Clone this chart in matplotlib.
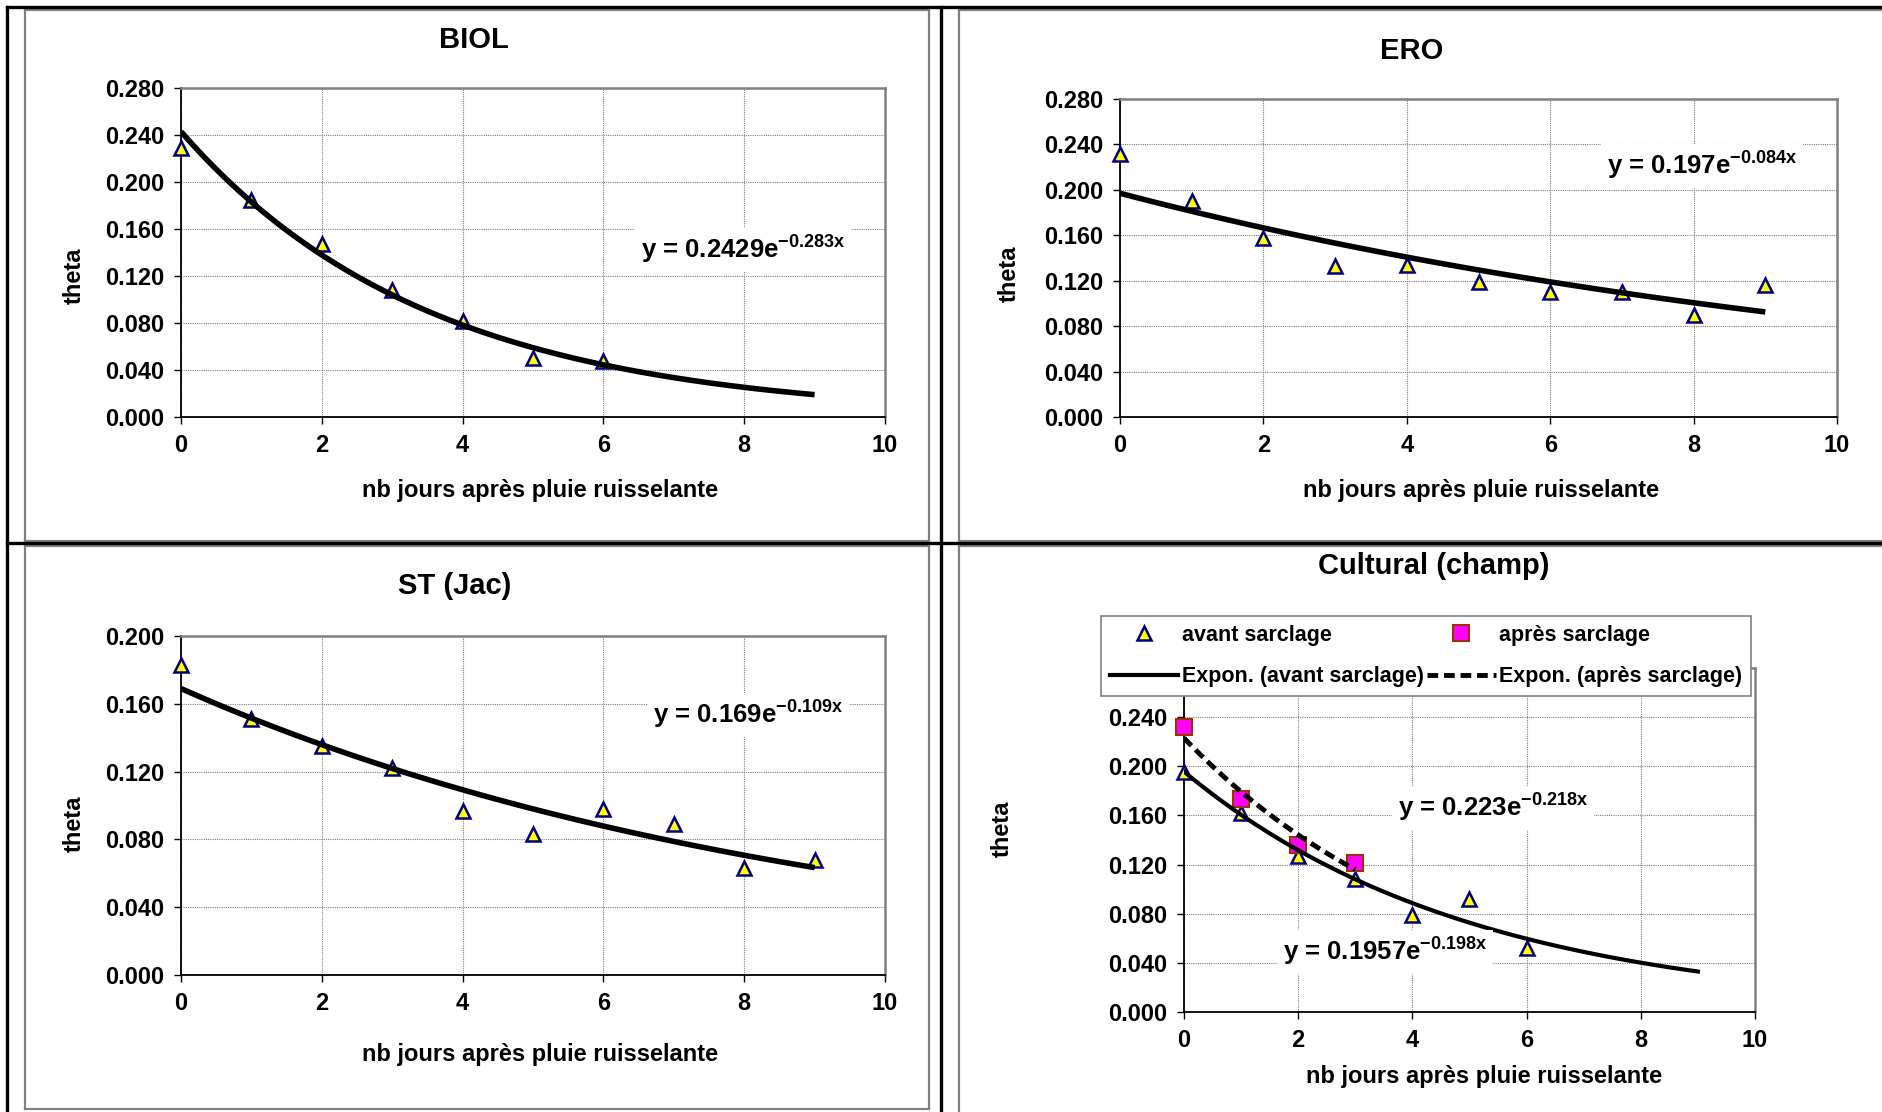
import matplotlib
matplotlib.use("Agg")
import matplotlib.pyplot as plt
from matplotlib.ticker import FormatStrFormatter
import numpy as np

plt.rcParams['font.family'] = ['Liberation Sans', 'DejaVu Sans']
plt.rcParams['font.weight'] = 'bold'
plt.rcParams['mathtext.fontset'] = 'custom'
plt.rcParams['mathtext.rm'] = 'Liberation Sans:bold'
plt.rcParams['mathtext.it'] = 'Liberation Sans:bold'
plt.rcParams['mathtext.bf'] = 'Liberation Sans:bold'

W, H = 1883, 1112

# ---- data ----
biol_days = [0, 1, 2, 3, 4, 5, 6]
biol_theta = [0.229, 0.185, 0.147, 0.108, 0.082, 0.050, 0.048]
biol_fit = (0.2429, -0.283)

ero_days = [0, 1, 2, 3, 4, 5, 6, 7, 8, 9]
ero_theta = [0.232, 0.190, 0.158, 0.133, 0.134, 0.119, 0.110, 0.110, 0.090, 0.116]
ero_fit = (0.197, -0.084)

st_days = [0, 1, 2, 3, 4, 5, 6, 7, 8, 9]
st_theta = [0.183, 0.151, 0.135, 0.122, 0.097, 0.083, 0.098, 0.089, 0.063, 0.068]
st_fit = (0.169, -0.109)

avant_days = [0, 1, 2, 3, 4, 5, 6]
avant_theta = [0.195, 0.162, 0.127, 0.108, 0.079, 0.092, 0.052]
avant_fit = (0.1957, -0.198)

apres_days = [0, 1, 2, 3]
apres_theta = [0.232, 0.173, 0.136, 0.121]
apres_fit = (0.223, -0.218)

xlabel = 'nb jours après pluie ruisselante'
ylabel = 'theta'

TICK_FS = 17
LABEL_FS = 17
TITLE_FS = 21
EQ_FS = 18.5


def eq_text(a, b):
    return 'y = %se$^{%s\\mathrm{x}}$' % (a, b)


fig = plt.figure(figsize=(W / 100, H / 100), dpi=100)

# frame lines, in pixel coordinates
bg = fig.add_axes([0, 0, 1, 1], zorder=-5)
bg.set_xlim(0, W)
bg.set_ylim(H, 0)
bg.axis('off')
grey = '#808080'
for (x0, y0, x1, y1) in [(25, 10, 929, 10), (25, 10, 25, 541), (929, 10, 929, 1109),
                         (25, 541, 929, 541), (25, 546, 25, 1109), (25, 1109, 929, 1109),
                         (959, 10, 1883, 10), (959, 10, 959, 1112), (959, 541, 1883, 541),
                         (25, 546, 929, 546), (959, 546, 1883, 546)]:
    bg.plot([x0, x1], [y0, y1], color=grey, lw=1.6)
for (x0, y0, x1, y1) in [(7, 7, 1883, 7), (7, 7, 7, 1112), (941, 7, 941, 1112), (7, 543, 1883, 543)]:
    bg.plot([x0, x1], [y0, y1], color='black', lw=2.4)


def px_axes(x0, y0, x1, y1):
    return fig.add_axes([x0 / W, 1 - y1 / H, (x1 - x0) / W, (y1 - y0) / H])


def style_axes(ax, ymax):
    ax.set_xlim(0, 10)
    ax.set_ylim(0, ymax)
    ax.set_xticks(np.arange(0, 11, 2))
    ax.set_yticks(np.arange(0, ymax + 0.001, 0.04))
    ax.yaxis.set_major_formatter(FormatStrFormatter('%.3f'))
    ax.grid(True, color='#808080', linestyle=(0, (1, 1)), linewidth=0.8)
    ax.set_axisbelow(True)
    for s in ['top', 'right']:
        ax.spines[s].set_color(grey)
        ax.spines[s].set_linewidth(1.8)
    for s in ['left', 'bottom']:
        ax.spines[s].set_color('black')
        ax.spines[s].set_linewidth(1.3)
    ax.tick_params(direction='out', length=5, width=1, labelsize=TICK_FS, pad=7)
    for lab in ax.get_xticklabels() + ax.get_yticklabels():
        lab.set_fontweight('bold')


def tri(ax, x, y):
    ax.plot(x, y, linestyle='none', marker='^', markersize=10, markerfacecolor='#FFFF00',
            markeredgecolor='#000080', markeredgewidth=1.8, zorder=3, clip_on=False)


def trend(ax, fit, xend, lw=4.0, ls='-'):
    xs = np.linspace(0, xend, 100)
    ax.plot(xs, fit[0] * np.exp(fit[1] * xs), color='black', lw=lw, ls=ls,
            zorder=4, solid_capstyle='butt')


def ftext(x, y, s, **kw):
    return fig.text(x / W, 1 - y / H, s, ha='center', va='center', fontweight='bold', **kw)


box = dict(facecolor='white', edgecolor='none', pad=4)

# BIOL
ax1 = px_axes(181, 88, 885, 417)
style_axes(ax1, 0.28)
tri(ax1, biol_days, biol_theta)
trend(ax1, biol_fit, 9)
ftext(474, 40, 'BIOL', fontsize=TITLE_FS)
ftext(74, 276, ylabel, fontsize=LABEL_FS, rotation=90)
ftext(540, 491, xlabel, fontsize=LABEL_FS)
ftext(743, 250, eq_text(biol_fit[0], biol_fit[1]), fontsize=EQ_FS, bbox=box, zorder=6)

# ERO
ax2 = px_axes(1120, 99, 1837, 417)
style_axes(ax2, 0.28)
tri(ax2, ero_days, ero_theta)
trend(ax2, ero_fit, 9)
ftext(1412, 51, 'ERO', fontsize=TITLE_FS)
ftext(1009, 274, ylabel, fontsize=LABEL_FS, rotation=90)
ftext(1481, 491, xlabel, fontsize=LABEL_FS)
ftext(1702, 166, eq_text(ero_fit[0], ero_fit[1]), fontsize=EQ_FS, bbox=box, zorder=6)

# ST (Jac)
ax3 = px_axes(181, 636, 885, 975)
style_axes(ax3, 0.20)
tri(ax3, st_days, st_theta)
trend(ax3, st_fit, 9)
ftext(455, 586, 'ST (Jac)', fontsize=TITLE_FS)
ftext(74, 824, ylabel, fontsize=LABEL_FS, rotation=90)
ftext(540, 1054, xlabel, fontsize=LABEL_FS)
ftext(748, 715, eq_text(st_fit[0], st_fit[1]), fontsize=EQ_FS, bbox=box, zorder=6)

# Cultural (champ)
ax4 = px_axes(1184, 668, 1755, 1012)
style_axes(ax4, 0.28)
h1, = ax4.plot(avant_days, avant_theta, linestyle='none', marker='^', markersize=10,
               markerfacecolor='#FFFF00', markeredgecolor='#000080', markeredgewidth=1.8,
               zorder=3, clip_on=False, label='avant sarclage')
h2, = ax4.plot(apres_days, apres_theta, linestyle='none', marker='s', markersize=11,
               markerfacecolor='#FF00FF', markeredgecolor='#993300', markeredgewidth=1.5,
               zorder=3, clip_on=False, label='après sarclage')
xs = np.linspace(0, 9, 100)
h3, = ax4.plot(xs, avant_fit[0] * np.exp(avant_fit[1] * xs), color='black', lw=3.0,
               zorder=4, label='Expon. (avant sarclage)')
xs2 = np.linspace(0, 3, 50)
h4, = ax4.plot(xs2, apres_fit[0] * np.exp(apres_fit[1] * xs2), color='black', lw=3.5,
               ls=(0, (2.2, 1.2)), zorder=4, label='Expon. (après sarclage)')
leg = ax4.legend(handles=[h1, h3, h2, h4], ncol=2, loc='upper left',
                 bbox_to_anchor=(1101 / W, 1 - 616 / H), bbox_transform=fig.transFigure,
                 frameon=True, fancybox=False, framealpha=1, edgecolor=grey,
                 prop={'size': 15.5, 'weight': 'bold'}, handlelength=3.2, handletextpad=0.15,
                 columnspacing=0.15, borderpad=0.4, labelspacing=0.95, borderaxespad=0)
leg.get_frame().set_linewidth(1.2)
leg.set_zorder(10)
ftext(1434, 566, 'Cultural (champ)', fontsize=TITLE_FS)
ftext(1002, 829, ylabel, fontsize=LABEL_FS, rotation=90)
ftext(1484, 1076, xlabel, fontsize=LABEL_FS)
ftext(1493, 808, eq_text(apres_fit[0], apres_fit[1]), fontsize=EQ_FS, bbox=box, zorder=6)
ftext(1385, 952, eq_text(avant_fit[0], avant_fit[1]), fontsize=EQ_FS, bbox=box, zorder=6)

fig.savefig('out.png', dpi=100)
